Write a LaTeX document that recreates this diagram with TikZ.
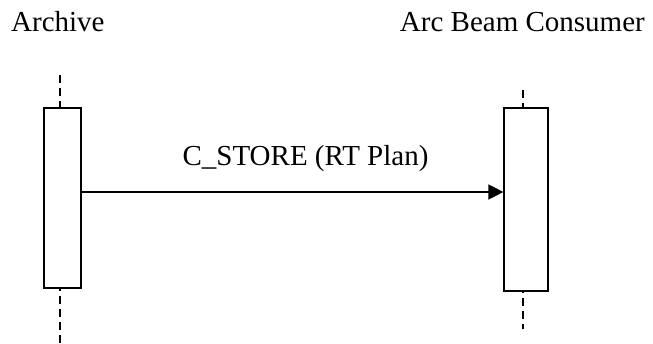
\documentclass[tikz,border=0pt]{standalone}
\usepackage{fontspec}
\setmainfont{Liberation Serif}
\usetikzlibrary{arrows.meta}
\begin{document}
\begin{tikzpicture}[x=1pt,y=-1pt,
  lbl/.style={inner sep=0pt,font=\fontsize{29}{34}\selectfont},
  actbox/.style={draw,line width=1.2pt,fill=white,inner sep=0pt},
  life/.style={line width=1.2pt,dash pattern=on 8pt off 5pt},
  msg/.style={line width=1.4pt,-{Triangle[length=15pt,width=15pt]}}]
\useasboundingbox (0,0) rectangle (653,343);
\node[lbl,anchor=base west] (archive) at (11,31) {Archive};
\node[lbl,anchor=base east] (consumer) at (645,31) {Arc Beam Consumer};
% lifelines
\coordinate (lt) at (60,75);
\coordinate (lb) at (60,343);
\coordinate (rt) at (523,90);
\coordinate (rb) at (523,329);
\draw[life] (lt) -- (lb);
\draw[life] (rt) -- (rb);
% activation boxes
\node[actbox,minimum width=37pt,minimum height=180pt] (abox) at (62.5,198) {};
\node[actbox,minimum width=44pt,minimum height=183pt] (cbox) at (526,199.5) {};
% message
\coordinate (m1) at (abox.east |- 0,192);
\draw[msg] (m1) -- (cbox.west |- m1);
\node[lbl,anchor=base] (label) at (305.5,165) {C\_STORE (RT Plan)};
\end{tikzpicture}
\end{document}
